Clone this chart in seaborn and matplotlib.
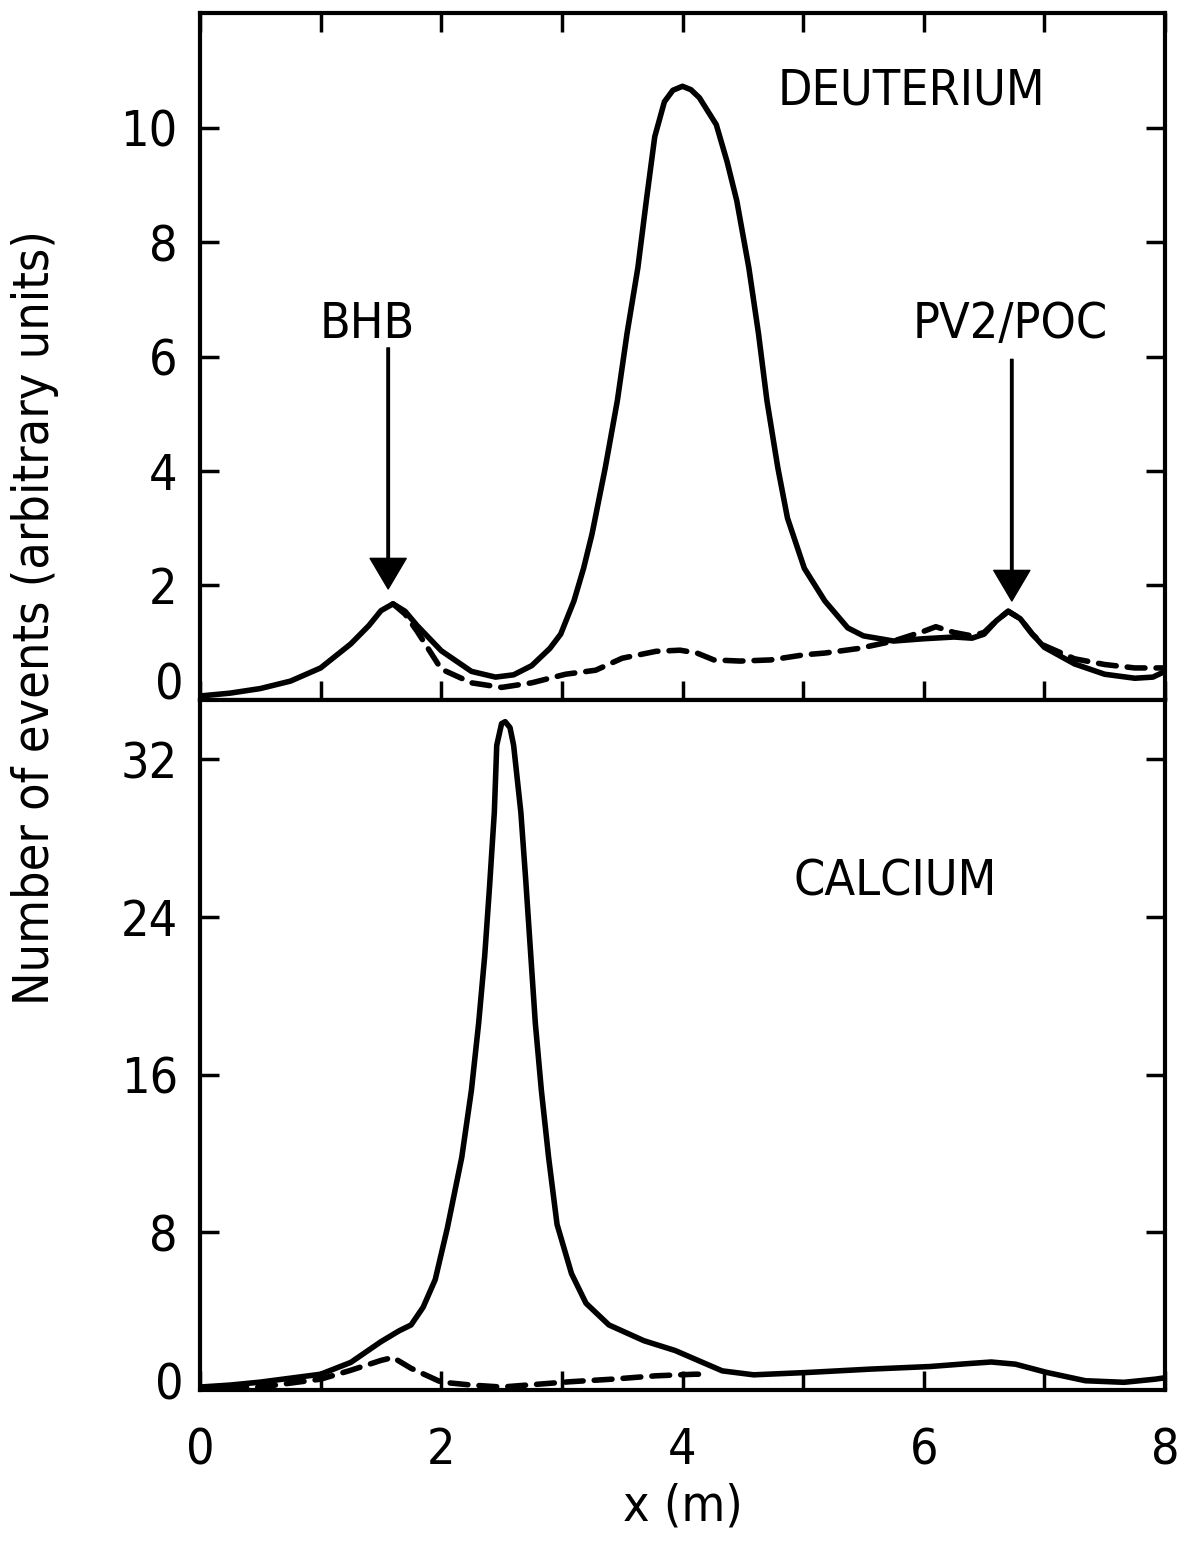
import numpy as np
import pandas as pd
import matplotlib
matplotlib.use("Agg")
import matplotlib.pyplot as plt
import seaborn as sns
from matplotlib.ticker import MultipleLocator

# ---------------- data ----------------
deut_x = [0.0, 0.25, 0.5, 0.75, 1.0, 1.25, 1.4, 1.5, 1.6, 1.7, 1.8, 2.0, 2.25, 2.45, 2.6,
          2.75, 2.9, 2.99, 3.1, 3.18, 3.25, 3.36, 3.46, 3.54, 3.63, 3.70, 3.77, 3.85, 3.92,
          4.0, 4.07, 4.14, 4.28, 4.37, 4.45, 4.55, 4.63, 4.70, 4.79, 4.87, 5.01, 5.18,
          5.37, 5.5, 5.75, 6.0, 6.25, 6.4, 6.5, 6.6, 6.7, 6.8, 6.9, 7.0, 7.25, 7.5, 7.75,
          7.9, 8.0]
deut_solid = [0.07, 0.12, 0.2, 0.33, 0.56, 0.98, 1.3, 1.56, 1.68, 1.55, 1.3, 0.86, 0.5, 0.4,
              0.44, 0.6, 0.9, 1.15, 1.73, 2.3, 2.9, 4.06, 5.23, 6.4, 7.55, 8.72, 9.84, 10.45,
              10.65, 10.72, 10.66, 10.52, 10.05, 9.4, 8.72, 7.55, 6.4, 5.23, 4.06, 3.18,
              2.3, 1.73, 1.26, 1.12, 1.03, 1.07, 1.1, 1.08, 1.15, 1.38, 1.55, 1.42, 1.15,
              0.92, 0.63, 0.45, 0.38, 0.4, 0.5]

deut_dash_x = [1.6, 1.7, 1.8, 2.0, 2.25, 2.5, 2.75, 3.03, 3.28, 3.5, 3.78, 3.98, 4.12, 4.26,
               4.48, 4.73, 5.01, 5.18, 5.46, 5.75, 6.0, 6.1, 6.25, 6.4, 6.5, 6.6, 6.7, 6.8,
               6.9, 7.0, 7.25, 7.5, 7.75, 8.0]
deut_dash = [1.68, 1.5, 1.2, 0.54, 0.3, 0.22, 0.3, 0.45, 0.52, 0.73, 0.85, 0.87, 0.82, 0.7,
             0.68, 0.7, 0.79, 0.82, 0.9, 1.03, 1.2, 1.28, 1.18, 1.12, 1.18, 1.38, 1.55,
             1.42, 1.15, 0.95, 0.72, 0.62, 0.56, 0.56]

calc_x = [0.0, 0.25, 0.5, 0.75, 1.0, 1.25, 1.5, 1.65, 1.75, 1.85, 1.95, 2.05, 2.17, 2.25,
          2.31, 2.36, 2.40, 2.44, 2.46, 2.50, 2.53, 2.57, 2.60, 2.66, 2.70, 2.78, 2.83,
          2.89, 2.96, 3.08, 3.2, 3.39, 3.68, 3.94, 4.14, 4.33, 4.59, 5.04, 5.56, 6.05,
          6.37, 6.56, 6.76, 7.02, 7.34, 7.66, 7.92, 8.0]
calc_solid = [0.15, 0.25, 0.4, 0.6, 0.8, 1.4, 2.45, 3.0, 3.3, 4.2, 5.6, 8.2, 11.8, 15.2,
              18.6, 22.0, 25.5, 29.3, 32.7, 33.8, 33.9, 33.6, 32.7, 29.3, 25.9, 18.6,
              15.2, 11.8, 8.4, 5.9, 4.4, 3.3, 2.5, 2.0, 1.47, 0.97, 0.77, 0.89, 1.06, 1.19,
              1.34, 1.42, 1.31, 0.89, 0.47, 0.39, 0.55, 0.62]

calc_dash_x = [0.0, 0.5, 1.0, 1.25, 1.5, 1.6, 1.75, 2.0, 2.25, 2.5, 3.07, 3.42, 3.78, 4.1,
               4.2]
calc_dash = [0.05, 0.15, 0.55, 1.0, 1.5, 1.65, 1.1, 0.4, 0.25, 0.15, 0.42, 0.55, 0.72, 0.8,
             0.8]

x_ticks = [0, 2, 4, 6, 8]
top_yticks = [0, 2, 4, 6, 8, 10]
bot_yticks = [0, 8, 16, 24, 32]

# ---------------- style ----------------
sns.set_theme(style="ticks")
plt.rcParams['font.family'] = ['DejaVu Sans']
plt.rcParams['font.stretch'] = 'condensed'
for k in ['text.color', 'axes.labelcolor', 'xtick.color', 'ytick.color',
          'axes.edgecolor']:
    plt.rcParams[k] = 'black'

fig = plt.figure(figsize=(11.81, 15.43), dpi=100)
left, right = 200 / 1181, 1165 / 1181
y_top, y_mid, y_bot = 1 - 13 / 1543, 1 - 700 / 1543, 1 - 1390 / 1543
ax1 = fig.add_axes([left, y_mid, right - left, y_top - y_mid])
ax2 = fig.add_axes([left, y_bot, right - left, y_mid - y_bot])

lw = 4.0
dash = (0, (3.2, 2.0))
d_top = pd.DataFrame({"x": deut_x, "y": deut_solid})
d_topd = pd.DataFrame({"x": deut_dash_x, "y": deut_dash})
d_bot = pd.DataFrame({"x": calc_x, "y": calc_solid})
d_botd = pd.DataFrame({"x": calc_dash_x, "y": calc_dash})

for data, ax, ls in [(d_topd, ax1, dash), (d_top, ax1, "-"),
                     (d_botd, ax2, dash), (d_bot, ax2, "-")]:
    sns.lineplot(data=data, x="x", y="y", ax=ax, color="black", lw=lw, linestyle=ls,
                 sort=False, estimator=None, solid_joinstyle="round",
                 solid_capstyle="round", dash_capstyle="round")

fs = 36
for ax in (ax1, ax2):
    ax.set_xlim(0, 8)
    ax.xaxis.set_major_locator(MultipleLocator(2))
    ax.xaxis.set_minor_locator(MultipleLocator(1))
    ax.set_xlabel("")
    ax.set_ylabel("")
    for s in ax.spines.values():
        s.set_visible(True)
        s.set_linewidth(3.0)
        s.set_color("black")
    ax.tick_params(axis="both", which="both", direction="in", length=14, width=2.5,
                   colors="black", labelsize=fs)

ax1.set_ylim(0, 12)
ax1.set_yticks(top_yticks[1:])
ax1.set_yticklabels([str(v) for v in top_yticks[1:]])
ax1.tick_params(axis="x", which="both", top=True, bottom=True, labelbottom=False)
ax1.tick_params(axis="y", left=True, right=True, pad=16)

ax2.set_ylim(0, 35)
ax2.set_yticks(bot_yticks[1:])
ax2.set_yticklabels([str(v) for v in bot_yticks[1:]])
ax2.set_xticks(x_ticks)
ax2.set_xticklabels([str(v) for v in x_ticks])
ax2.tick_params(axis="x", which="both", top=False, bottom=True, pad=26)
ax2.tick_params(axis="y", left=True, right=True, pad=16)

# zero labels on both panels
fig.text(left - 16 / 1181, 1 - 686 / 1543, "0", ha="right", va="center", fontsize=fs)
fig.text(left - 16 / 1181, 1 - 1386 / 1543, "0", ha="right", va="center", fontsize=fs)

ax2.set_xlabel("x (m)", fontsize=fs, labelpad=6)
fig.text(0.03, 1 - 618 / 1543, "Number of events (arbitrary units)", rotation=90,
         ha="center", va="center", fontsize=fs)

ax1.text(5.9, 10.65, "DEUTERIUM", ha="center", va="center", fontsize=fs)
ax2.text(5.76, 25.8, "CALCIUM", ha="center", va="center", fontsize=fs)
ax1.text(1.39, 6.57, "BHB", ha="center", va="center", fontsize=fs)
ax1.text(6.72, 6.57, "PV2/POC", ha="center", va="center", fontsize=fs)

arrow = dict(facecolor="black", edgecolor="black", width=1.8, headwidth=26, headlength=22,
             shrink=0)
ax1.annotate("", xy=(1.56, 1.94), xytext=(1.56, 6.15), arrowprops=arrow)
ax1.annotate("", xy=(6.73, 1.73), xytext=(6.73, 5.95), arrowprops=arrow)

fig.savefig("out.png", dpi=100)
